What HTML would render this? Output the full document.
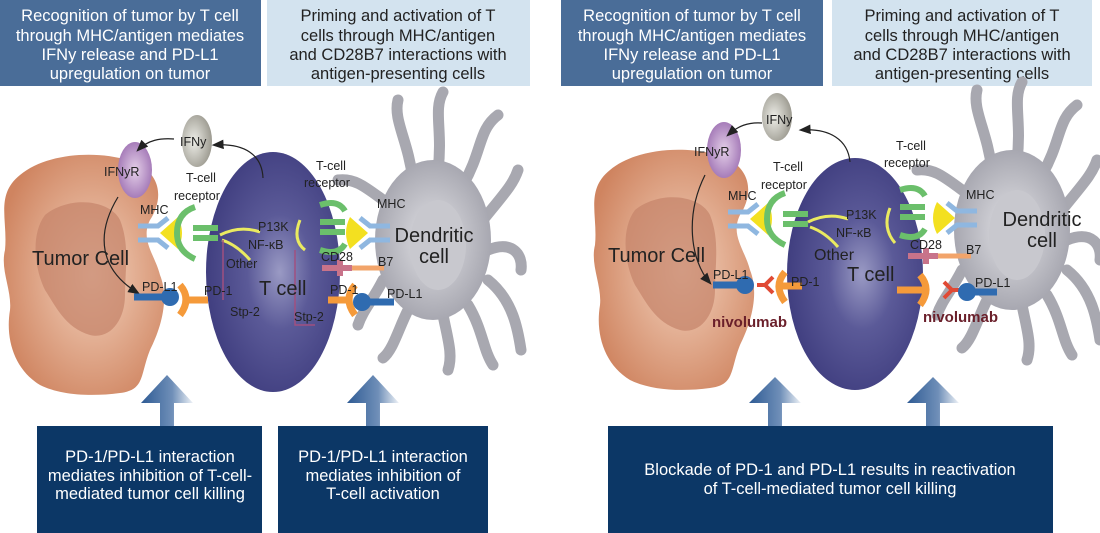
<!DOCTYPE html>
<html><head><meta charset="utf-8"><style>
html,body{margin:0;padding:0;background:#fff;}
svg{display:block;}
text{font-family:"Liberation Sans",sans-serif;}
.hb{font-size:16.5px;text-anchor:middle;}
.lb{font-size:12.5px;fill:#222;}
.big{font-size:20px;fill:#222;}
</style></head><body>
<svg width="1100" height="533" viewBox="0 0 1100 533" xmlns="http://www.w3.org/2000/svg">
<defs>
<radialGradient id="tum" cx="0.55" cy="0.5" r="0.6"><stop offset="0" stop-color="#f3d2bd"/><stop offset="1" stop-color="#cf8460"/></radialGradient>
<radialGradient id="tc" cx="0.55" cy="0.5" r="0.6"><stop offset="0" stop-color="#9a9ac4"/><stop offset="0.4" stop-color="#5b5a98"/><stop offset="1" stop-color="#3c3a7c"/></radialGradient>
<radialGradient id="dc" cx="0.5" cy="0.5" r="0.6"><stop offset="0" stop-color="#e2e2e6"/><stop offset="1" stop-color="#9c9ca6"/></radialGradient>
<radialGradient id="ifn" cx="0.4" cy="0.5" r="0.6"><stop offset="0" stop-color="#eeeee8"/><stop offset="1" stop-color="#9c9a90"/></radialGradient>
<radialGradient id="ifr" cx="0.5" cy="0.5" r="0.6"><stop offset="0" stop-color="#e4cfe8"/><stop offset="1" stop-color="#9a6cb0"/></radialGradient>
<linearGradient id="arr" x1="0" y1="0" x2="1" y2="0"><stop offset="0" stop-color="#2f5b94"/><stop offset="0.6" stop-color="#6f8fb8"/><stop offset="1" stop-color="#eef2f7"/></linearGradient>
<marker id="ah" markerWidth="10" markerHeight="8" refX="8" refY="4" orient="auto"><path d="M0,0 L10,4 L0,8 Z" fill="#222"/></marker>
<g id="tumor">
<path d="M20,175 C50,150 110,150 140,165 C165,180 160,205 150,220 C140,240 155,255 160,275 C170,300 160,330 150,350 C140,375 145,390 120,393 C90,397 60,395 40,385 C15,370 5,340 10,310 C12,290 0,270 5,250 C8,220 -5,195 20,175 Z" fill="url(#tum)"/>
<path d="M45,215 C70,195 110,200 120,220 C130,245 125,270 125,295 C125,320 110,340 90,335 C65,328 55,305 45,290 C35,270 30,235 45,215 Z" fill="#c5836a" opacity="0.7"/>
</g>
<g id="dend">
<g stroke="#a8a8b0" stroke-width="11" stroke-linecap="round" fill="none">
<path d="M-20,-60 C-25,-100 -40,-120 -35,-140"/>
<path d="M5,-70 C10,-110 0,-130 10,-148"/>
<path d="M30,-55 C50,-90 45,-110 65,-125"/>
<path d="M50,-20 C70,-45 80,-55 85,-70"/>
<path d="M55,10 C80,0 90,15 88,30"/>
<path d="M55,40 C80,60 85,90 88,110"/>
<path d="M35,65 C50,90 50,110 60,125"/>
<path d="M10,75 C15,100 20,115 15,130"/>
<path d="M-25,70 C-35,90 -40,110 -50,118"/>
<path d="M-50,40 C-60,60 -70,70 -75,85"/>
<path d="M-50,-40 C-70,-55 -80,-62 -95,-60"/>
</g>
<ellipse cx="0" cy="0" rx="58" ry="80" fill="url(#dc)"/>
<ellipse cx="5" cy="5" rx="28" ry="45" fill="#c8c8ce"/>
</g>
<g id="mhc">
<path d="M0,0 h20 l10,-8 M0,14 h20 l10,8" stroke="#8fb7e0" stroke-width="5" fill="none"/>
<path d="M22,7 l18,-16 q8,16 0,32 Z" fill="#f3e020"/>
</g>
</defs>

<rect x="0" y="0" width="261" height="86" fill="#4a6d98"/>
<rect x="267" y="0" width="263" height="86" fill="#d3e3ef"/>
<rect x="561" y="0" width="262" height="86" fill="#4a6d98"/>
<rect x="832" y="0" width="260" height="86" fill="#d3e3ef"/>
<g class="hb" fill="#fff">
<text x="130" y="21">Recognition of tumor by T cell</text><text x="130" y="41">through MHC/antigen mediates</text><text x="130" y="60">IFNy release and PD-L1</text><text x="130" y="79">upregulation on tumor</text>
<text x="692" y="21">Recognition of tumor by T cell</text><text x="692" y="41">through MHC/antigen mediates</text><text x="692" y="60">IFNy release and PD-L1</text><text x="692" y="79">upregulation on tumor</text>
</g>
<g class="hb" fill="#222">
<text x="398" y="21">Priming and activation of T</text><text x="398" y="41">cells through MHC/antigen</text><text x="398" y="60">and CD28B7 interactions with</text><text x="398" y="79">antigen-presenting cells</text>
<text x="962" y="21">Priming and activation of T</text><text x="962" y="41">cells through MHC/antigen</text><text x="962" y="60">and CD28B7 interactions with</text><text x="962" y="79">antigen-presenting cells</text>
</g>

<!-- LEFT PANEL -->
<use href="#tumor"/>
<use href="#dend" transform="translate(433,240)"/>
<ellipse cx="273" cy="272" rx="67" ry="120" fill="url(#tc)"/>
<ellipse cx="197" cy="141" rx="15" ry="26" fill="url(#ifn)"/>
<ellipse cx="135" cy="170" rx="17" ry="28" fill="url(#ifr)"/>
<path d="M174,139 C160,138 148,140 138,150" stroke="#222" fill="none" stroke-width="1.2" marker-end="url(#ah)"/>
<path d="M263,178 C262,155 245,143 214,145" stroke="#222" fill="none" stroke-width="1.2" marker-end="url(#ah)"/>
<path d="M118,197 C95,235 100,270 138,293" stroke="#222" fill="none" stroke-width="1.2" marker-end="url(#ah)"/>
<use href="#mhc" transform="translate(138,226)"/>
<path d="M195,207 q-18,6 -18,26 q0,18 18,26 M193,228 h25 M193,238 h25" stroke="#6bbf6b" stroke-width="6" fill="none"/>
<path d="M220,235 q20,-10 40,-3 M222,240 q15,5 28,20" stroke="#eaea60" stroke-width="3" fill="none"/>
<path d="M223,240 v60 M295,250 v75 h20" stroke="#a05080" stroke-width="1.5" fill="none"/>
<path d="M134,297 h34" stroke="#2f6bb0" stroke-width="7"/><circle cx="170" cy="297" r="9" fill="#2f6bb0"/>
<path d="M180,285 q12,14 0,30 M186,300 h22" stroke="#f59a3a" stroke-width="7" fill="none"/>
<path d="M320,205 q18,-6 25,6 M320,250 q18,6 25,-6 M345,222 h-25 M345,232 h-25" stroke="#6bbf6b" stroke-width="6" fill="none"/>
<path d="M300,220 q-8,20 5,30" stroke="#eaea60" stroke-width="3" fill="none"/>
<g transform="translate(390,226) scale(-1,1)"><use href="#mhc"/></g>
<path d="M322,268 h30 M340,260 v16" stroke="#c8738a" stroke-width="6"/><path d="M352,268 h32" stroke="#f2a46a" stroke-width="5"/>
<path d="M355,285 q-12,14 0,30 M350,300 h-22" stroke="#f59a3a" stroke-width="7" fill="none"/>
<circle cx="362" cy="302" r="9" fill="#2f6bb0"/><path d="M362,302 h32" stroke="#2f6bb0" stroke-width="7"/>
<g class="lb">
<text x="180" y="146">IFNy</text><text x="104" y="176">IFNyR</text>
<text x="186" y="182">T-cell</text><text x="174" y="200">receptor</text>
<text x="316" y="170">T-cell</text><text x="304" y="187">receptor</text>
<text x="140" y="214">MHC</text><text x="377" y="208">MHC</text>
<text x="258" y="231">P13K</text><text x="248" y="249">NF-κB</text><text x="226" y="268">Other</text>
<text x="142" y="291">PD-L1</text><text x="204" y="295">PD-1</text><text x="230" y="316">Stp-2</text>
<text x="321" y="261">CD28</text><text x="378" y="266">B7</text><text x="330" y="294">PD-1</text><text x="387" y="298">PD-L1</text><text x="294" y="321">Stp-2</text>
</g>
<text x="32" y="265" class="big">Tumor Cell</text>
<text x="259" y="295" class="big">T cell</text>
<text x="434" y="242" class="big" text-anchor="middle">Dendritic</text><text x="434" y="263" class="big" text-anchor="middle">cell</text>

<!-- RIGHT PANEL -->
<use href="#tumor" transform="translate(590,-5)"/>
<use href="#dend" transform="translate(1012,230)"/>
<ellipse cx="855" cy="274" rx="68" ry="116" fill="url(#tc)"/>
<ellipse cx="777" cy="117" rx="15" ry="24" fill="url(#ifn)"/>
<ellipse cx="724" cy="150" rx="17" ry="28" fill="url(#ifr)"/>
<path d="M762,123 C748,122 738,126 728,135" stroke="#222" fill="none" stroke-width="1.2" marker-end="url(#ah)"/>
<path d="M850,162 C848,140 830,128 801,130" stroke="#222" fill="none" stroke-width="1.2" marker-end="url(#ah)"/>
<path d="M705,175 C685,215 690,260 710,283" stroke="#222" fill="none" stroke-width="1.2" marker-end="url(#ah)"/>
<use href="#mhc" transform="translate(728,212)"/>
<path d="M785,193 q-18,6 -18,26 q0,18 18,26 M783,214 h25 M783,224 h25" stroke="#6bbf6b" stroke-width="6" fill="none"/>
<path d="M808,222 q20,-10 40,-3 M810,227 q15,5 28,20" stroke="#eaea60" stroke-width="3" fill="none"/>
<path d="M900,190 q18,-6 25,6 M900,235 q18,6 25,-6 M925,207 h-25 M925,217 h-25" stroke="#6bbf6b" stroke-width="6" fill="none"/>
<path d="M890,208 q-8,20 5,35" stroke="#eaea60" stroke-width="3" fill="none"/>
<g transform="translate(977,211) scale(-1,1)"><use href="#mhc"/></g>
<path d="M908,256 h30 M926,248 v16" stroke="#c8738a" stroke-width="6"/><path d="M938,256 h33" stroke="#f2a46a" stroke-width="5"/>
<path d="M713,285 h32" stroke="#2f6bb0" stroke-width="7"/><circle cx="745" cy="285" r="9" fill="#2f6bb0"/>
<path d="M757,285 h8 l8,-8 M765,285 l8,8" stroke="#e04a35" stroke-width="4" fill="none"/>
<path d="M785,272 q-12,14 0,30 M780,286 h22" stroke="#f59a3a" stroke-width="7" fill="none"/>
<path d="M920,275 q12,14 0,30 M925,290 h-28" stroke="#f59a3a" stroke-width="7" fill="none"/>
<path d="M960,290 h-8 l-8,-8 M952,290 l-8,8" stroke="#e04a35" stroke-width="4" fill="none"/>
<circle cx="967" cy="292" r="9" fill="#2f6bb0"/><path d="M967,292 h30" stroke="#2f6bb0" stroke-width="7"/>
<g class="lb">
<text x="766" y="124">IFNy</text><text x="694" y="156">IFNyR</text>
<text x="773" y="171">T-cell</text><text x="761" y="189">receptor</text>
<text x="896" y="150">T-cell</text><text x="884" y="167">receptor</text>
<text x="728" y="200">MHC</text><text x="966" y="199">MHC</text>
<text x="846" y="219">P13K</text><text x="836" y="237">NF-κB</text>
<text x="713" y="279">PD-L1</text><text x="791" y="286">PD-1</text>
<text x="910" y="249">CD28</text><text x="966" y="254">B7</text><text x="975" y="287">PD-L1</text>
</g>
<text x="814" y="260" style="font-size:16px;fill:#222">Other</text>
<text x="847" y="281" class="big">T cell</text>
<text x="608" y="262" class="big">Tumor Cell</text>
<text x="1042" y="226" class="big" text-anchor="middle">Dendritic</text><text x="1042" y="247" class="big" text-anchor="middle">cell</text>
<text x="712" y="327" style="font-size:15px;font-weight:bold;fill:#6a1f2a">nivolumab</text>
<text x="923" y="322" style="font-size:15px;font-weight:bold;fill:#6a1f2a">nivolumab</text>

<g fill="url(#arr)">
<path d="M141,403 L167,375 L193,403 L174,403 L174,427 L160,427 L160,403 Z"/>
<path d="M347,403 L373,375 L399,403 L380,403 L380,427 L366,427 L366,403 Z"/>
<path d="M749,403 L775,377 L801,403 L782,403 L782,427 L768,427 L768,403 Z"/>
<path d="M907,403 L933,377 L959,403 L940,403 L940,427 L926,427 L926,403 Z"/>
</g>

<rect x="37" y="426" width="225" height="107" fill="#0c3766"/>
<rect x="278" y="426" width="210" height="107" fill="#0c3766"/>
<rect x="608" y="426" width="445" height="107" fill="#0c3766"/>
<g class="hb" fill="#fff">
<text x="150" y="462">PD-1/PD-L1 interaction</text><text x="150" y="481">mediates inhibition of T-cell-</text><text x="150" y="499">mediated tumor cell killing</text>
<text x="383" y="462">PD-1/PD-L1 interaction</text><text x="383" y="481">mediates inhibition of</text><text x="383" y="499">T-cell activation</text>
<text x="830" y="475">Blockade of PD-1 and PD-L1 results in reactivation</text><text x="830" y="494">of T-cell-mediated tumor cell killing</text>
</g>
</svg>
</body></html>
